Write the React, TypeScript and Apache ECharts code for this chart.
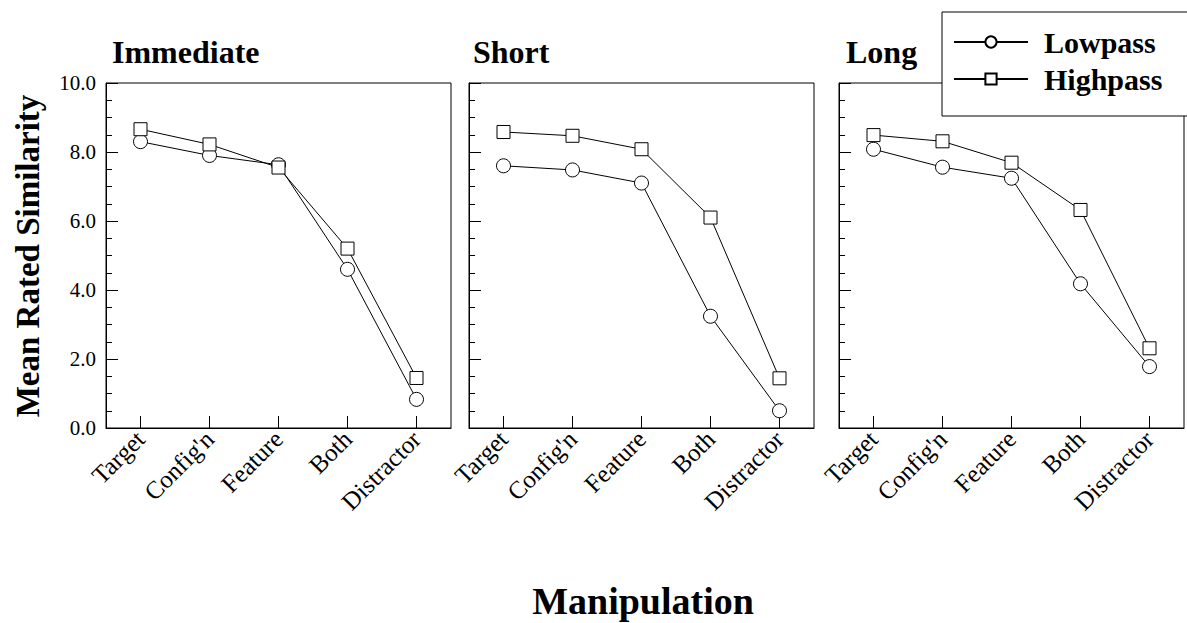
import React, { useEffect, useRef } from "react";
import * as echarts from "echarts";

const categories = ["Target", "Config'n", "Feature", "Both", "Distractor"];
const panelTitles = ["Immediate", "Short", "Long"];
const lowpassImmediate = [8.3, 7.9, 7.63, 4.6, 0.83];
const highpassImmediate = [8.66, 8.22, 7.55, 5.2, 1.45];
const lowpassShort = [7.6, 7.48, 7.1, 3.24, 0.5];
const highpassShort = [8.58, 8.47, 8.08, 6.1, 1.44];
const lowpassLong = [8.08, 7.56, 7.24, 4.18, 1.78];
const highpassLong = [8.49, 8.31, 7.69, 6.32, 2.31];
const yTicks = [0, 2, 4, 6, 8, 10];

const FONT = "Liberation Serif";

export default function App() {
  const ref = useRef<HTMLDivElement>(null);
  useEffect(() => {
    if (!ref.current) return;
    const chart = echarts.init(ref.current, null, { renderer: "svg" });
    const lefts = [106, 469, 839];
    const lows = [lowpassImmediate, lowpassShort, lowpassLong];
    const highs = [highpassImmediate, highpassShort, highpassLong];
    const grids = lefts.map((l) => ({
      left: l,
      top: 83,
      width: 345,
      height: 345,
      show: true,
      borderColor: "#000",
      borderWidth: 1,
      backgroundColor: "transparent",
    }));
    const xAxes = lefts.map((_, i) => ({
      type: "category",
      gridIndex: i,
      data: categories,
      boundaryGap: true,
      axisLine: { lineStyle: { color: "#000", width: 1 } },
      axisTick: { show: true, inside: true, alignWithLabel: true, length: 12, lineStyle: { color: "#000" } },
      axisLabel: { rotate: 45, fontSize: 25, fontFamily: FONT, color: "#000", margin: 7, interval: 0 },
      splitLine: { show: false },
    }));
    const yAxes = lefts.map((_, i) => ({
      type: "value",
      gridIndex: i,
      min: yTicks[0],
      max: yTicks[yTicks.length - 1],
      interval: 2,
      axisLine: { show: true, lineStyle: { color: "#000", width: 1 } },
      axisTick: { show: true, inside: true, length: 12, lineStyle: { color: "#000" } },
      minorTick: { show: true, splitNumber: 4, length: 6, lineStyle: { color: "#000" } },
      splitLine: { show: false },
      axisLabel: {
        show: i === 0,
        fontSize: 21,
        fontFamily: FONT,
        color: "#000",
        margin: 10,
        formatter: (v: number) => v.toFixed(1),
      },
    }));
    const series: any[] = [];
    for (let i = 0; i < 3; i++) {
      series.push({
        name: "Lowpass",
        type: "line",
        xAxisIndex: i,
        yAxisIndex: i,
        data: lows[i],
        symbol: "circle",
        symbolSize: 14,
        lineStyle: { color: "#000", width: 1 },
        itemStyle: { color: "#fff", borderColor: "#000", borderWidth: 1 },
        z: 3,
      });
      series.push({
        name: "Highpass",
        type: "line",
        xAxisIndex: i,
        yAxisIndex: i,
        data: highs[i],
        symbol: "rect",
        symbolSize: 13,
        lineStyle: { color: "#000", width: 1 },
        itemStyle: { color: "#fff", borderColor: "#000", borderWidth: 1 },
        z: 4,
      });
    }
    const titleX = [112, 473, 846];
    const graphics: any[] = panelTitles.map((t, i) => ({
      type: "text",
      x: titleX[i],
      y: 52,
      style: {
        text: t,
        fontSize: 32,
        fontWeight: "bold",
        fontFamily: FONT,
        fill: "#000",
        align: "left",
        verticalAlign: "middle",
      },
    }));
    graphics.push({
      type: "text",
      x: 28,
      y: 256,
      rotation: Math.PI / 2,
      style: {
        text: "Mean Rated Similarity",
        fontSize: 33,
        fontWeight: "bold",
        fontFamily: FONT,
        fill: "#000",
        align: "center",
        verticalAlign: "middle",
      },
    });
    graphics.push({
      type: "text",
      x: 643,
      y: 601,
      style: {
        text: "Manipulation",
        fontSize: 38,
        fontWeight: "bold",
        fontFamily: FONT,
        fill: "#000",
        align: "center",
        verticalAlign: "middle",
      },
    });
    chart.setOption({
      animation: false,
      backgroundColor: "#fff",
      grid: grids,
      xAxis: xAxes,
      yAxis: yAxes,
      series,
      legend: {
        data: ["Lowpass", "Highpass"],
        orient: "vertical",
        left: 942,
        top: 12,
        padding: [15, 40, 22, 11],
        itemGap: 7,
        itemWidth: 74,
        itemHeight: 14,
        backgroundColor: "#fff",
        borderColor: "#000",
        borderWidth: 1,
        z: 10,
        textStyle: {
          fontSize: 30,
          fontWeight: "bold",
          fontFamily: FONT,
          color: "#000",
          padding: [0, 0, 0, 11],
        },
      },
      graphic: graphics,
    });
    return () => chart.dispose();
  }, []);
  return (
    <div
      ref={ref}
      style={{ position: "fixed", left: 0, top: 0, width: 1187, height: 623 }}
    />
  );
}
